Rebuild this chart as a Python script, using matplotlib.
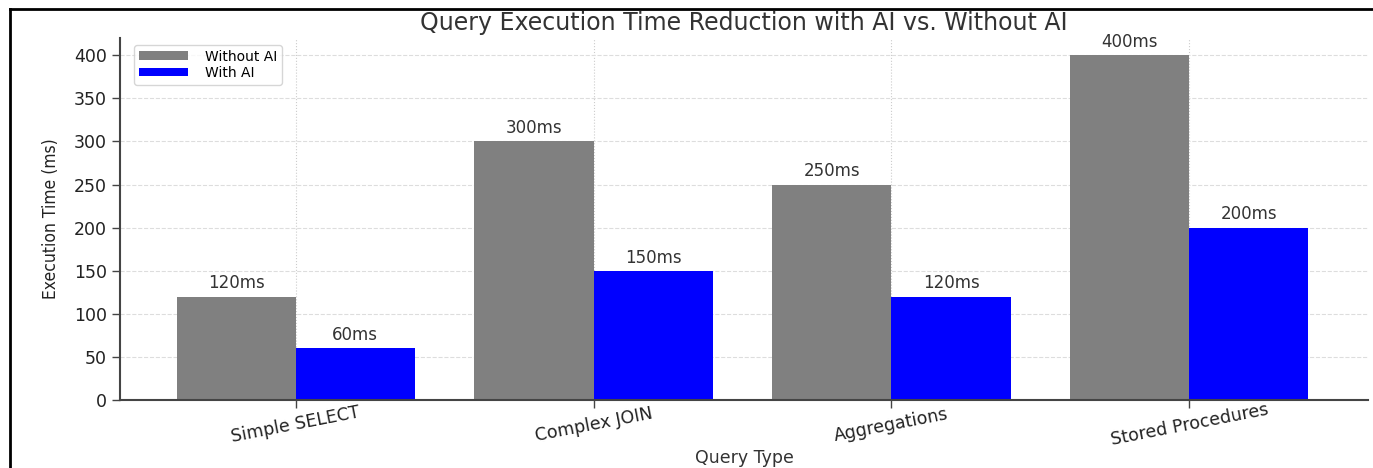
import numpy as np
import matplotlib.pyplot as plt
from matplotlib.lines import Line2D

# dados
query_types = ['Simple SELECT', 'Complex JOIN', 'Aggregations', 'Stored Procedures']
without_ai = [120, 300, 250, 400]
with_ai = [60, 150, 120, 200]

W, H = 1373, 468
fig = plt.figure(figsize=(W / 100, H / 100), dpi=100)
ax = fig.add_axes([120 / W, 1 - 400 / H, (1368 - 120) / W, (400 - 38) / H])

x = np.arange(len(query_types))
width = 0.4

b1 = ax.bar(x - width / 2, without_ai, width, color='gray', label='Without AI')
b2 = ax.bar(x + width / 2, with_ai, width, color='blue', label='With AI')

for bars in (b1, b2):
    for rect in bars:
        h = rect.get_height()
        ax.annotate(f'{int(h)}ms', (rect.get_x() + rect.get_width() / 2, h),
                    xytext=(0, 3), textcoords='offset points',
                    ha='center', va='bottom', fontsize=12, color='#333333')

ax.set_xticks(x)
ax.set_xticklabels(query_types, rotation=11, fontsize=12.5, color='#222222',
                   ha='center', va='center', rotation_mode='anchor')
ax.tick_params(axis='x', pad=12)
ax.tick_params(axis='y', labelsize=12.5, colors='#222222')
ax.tick_params(axis='both', color='#444444', length=6, width=1)
ax.set_ylim(0, 420)
ax.set_xlim(-0.59, 3.6)

ax.set_title('Query Execution Time Reduction with AI vs. Without AI',
             fontsize=17, color='#333333', pad=6)
ax.set_xlabel('Query Type', fontsize=12.5, color='#333333')
ax.xaxis.set_label_coords(0.5, -0.135)
ax.set_ylabel('Execution Time (ms)', fontsize=12.5, color='#222222',
              family='DejaVu Sans', fontstretch='condensed', labelpad=10)

ax.grid(axis='y', linestyle='--', color='#dddddd', linewidth=0.8)
ax.grid(axis='x', linestyle=':', color='#cccccc', linewidth=0.8)
ax.set_axisbelow(True)

for s in ('top', 'right'):
    ax.spines[s].set_visible(False)
for s in ('left', 'bottom'):
    ax.spines[s].set_color('#444444')
    ax.spines[s].set_linewidth(1.5)

ax.legend(loc='upper left', fontsize=10, handlelength=3.5, handleheight=0.6,
          bbox_to_anchor=(0.006, 1.0), borderpad=0.35, labelspacing=0.15,
          handletextpad=1.2)

# borda preta
lx = 10 / W
ty = 1 - 9 / H
fig.add_artist(Line2D([lx, lx], [0, ty], color='black', linewidth=2, transform=fig.transFigure))
fig.add_artist(Line2D([lx, 1], [ty, ty], color='black', linewidth=2, transform=fig.transFigure))

fig.savefig('out.png', dpi=100)
